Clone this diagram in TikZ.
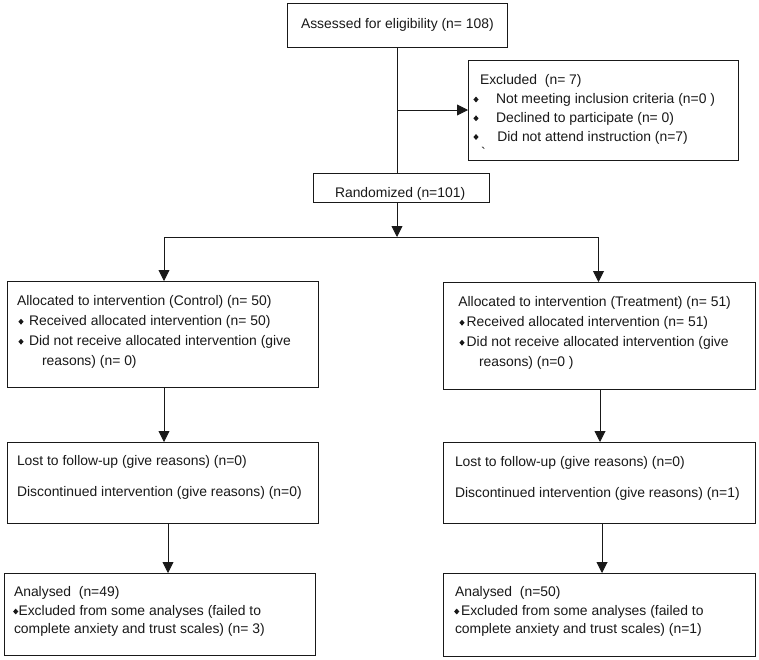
\documentclass[tikz,border=0pt]{standalone}
\usepackage{fontspec}
\setmainfont{Liberation Sans}
\newfontfamily\rawfont{Liberation Sans}
\usetikzlibrary{arrows.meta}
\tikzset{
  box/.style={draw=black!90, line width=0.9pt, inner sep=0pt, outer sep=0pt, fill=white},
  txt/.style={anchor=base west, inner sep=0pt, outer sep=0pt, font=\fontsize{13.9}{16}\selectfont, text=black!90},
  conn/.style={draw=black!90, line width=0.9pt},
  arr/.style={conn, -{Triangle[length=11pt,width=11pt]}},
  bullet/.pic={\fill[black!90] (-2.6,0) -- (0,-2.9) -- (2.6,0) -- (0,2.9) -- cycle;}
}
\begin{document}
\begin{tikzpicture}[x=1pt,y=-1pt]
\useasboundingbox (0,0) rectangle (759,659);
% boxes
\node[box, minimum width=220, minimum height=44] (assess) at (397,25) {};
\node[box, minimum width=270, minimum height=100] (excl) at (603,110) {};
\node[box, minimum width=176, minimum height=29] (rand) at (401,187.5) {};
\node[box, minimum width=311, minimum height=106] (allocL) at (162.5,334) {};
\node[box, minimum width=312, minimum height=107] (allocR) at (599,335.5) {};
\node[box, minimum width=311, minimum height=81] (fuL) at (162.5,482.5) {};
\node[box, minimum width=312, minimum height=81] (fuR) at (599,482.5) {};
\node[box, minimum width=311, minimum height=82] (anL) at (159.5,614) {};
\node[box, minimum width=312, minimum height=83] (anR) at (599,614.5) {};
\coordinate (split) at (397,237);
% connectors
\draw[conn] (assess.south) -- (assess.south |- rand.north);
\draw[arr] (assess.south |- excl.west) -- (excl.west);
\draw[arr] (split |- rand.south) -- (split);
\draw[arr] (split) -| ([xshift=1.5pt]allocL.north);
\draw[arr] (split) -| ([xshift=-0.5pt]allocR.north);
\draw[arr] ([xshift=1.5pt]allocL.south) -- ([xshift=1.5pt]allocL.south |- fuL.north);
\draw[arr] ([xshift=1pt]allocR.south) -- ([xshift=1pt]allocR.south |- fuR.north);
\draw[arr] ([xshift=5.5pt]fuL.south) -- ([xshift=5.5pt]fuL.south |- anL.north);
\draw[arr] ([xshift=3pt]fuR.south) -- ([xshift=3pt]fuR.south |- anR.north);
% texts
\node[txt] (t1) at (301,28) {Assessed for eligibility (n= 108)};
\node[txt] (t2) at (480,84) {Excluded\ \ (n= 7)};
\node[txt] (t3) at (496,103) {Not meeting inclusion criteria (n=0 )};
\node[txt] (t4) at (496,122) {Declined to participate (n= 0)};
\node[txt] (t5) at (497.3,141) {Did not attend instruction (n=7)};
\node[txt] (t6) at (481,157) {\rawfont `};
\node[txt] (t7) at (335,197) {Randomized (n=101)};
\node[txt] (t8) at (17,305.5) {Allocated to intervention (Control) (n= 50)};
\node[txt] (t9) at (29,325.5) {Received allocated intervention (n= 50)};
\node[txt] (t10) at (29,345.5) {Did not receive allocated intervention (give};
\node[txt] (t11) at (42,365.5) {reasons) (n= 0)};
\node[txt] (t12) at (458.3,306.5) {Allocated to intervention (Treatment) (n= 51)};
\node[txt] (t13) at (466.7,326.5) {Received allocated intervention (n= 51)};
\node[txt] (t14) at (466.7,346.5) {Did not receive allocated intervention (give};
\node[txt] (t15) at (479,366.5) {reasons) (n=0 )};
\node[txt] (t16) at (17,465) {Lost to follow-up (give reasons) (n=0)};
\node[txt] (t17) at (17,496.7) {Discontinued intervention (give reasons) (n=0)};
\node[txt] (t18) at (455,466) {Lost to follow-up (give reasons) (n=0)};
\node[txt] (t19) at (455,497) {Discontinued intervention (give reasons) (n=1)};
\node[txt] (t20) at (14,596) {Analysed\ \ (n=49)};
\node[txt] (t21) at (18.5,615) {Excluded from some analyses (failed to};
\node[txt] (t22) at (14,633.5) {complete anxiety and trust scales) (n= 3)};
\node[txt] (t23) at (455,596) {Analysed\ \ (n=50)};
\node[txt] (t24) at (461,615) {Excluded from some analyses (failed to};
\node[txt] (t25) at (455,633.5) {complete anxiety and trust scales) (n=1)};
% bullets
\pic at (476,99.5) {bullet};
\pic at (476,118.3) {bullet};
\pic at (476,137) {bullet};
\pic at (21,321.7) {bullet};
\pic at (21,341.7) {bullet};
\pic at (462,322.7) {bullet};
\pic at (462,342.7) {bullet};
\pic at (15.7,611.5) {bullet};
\pic at (456.7,611.5) {bullet};
\end{tikzpicture}
\end{document}
